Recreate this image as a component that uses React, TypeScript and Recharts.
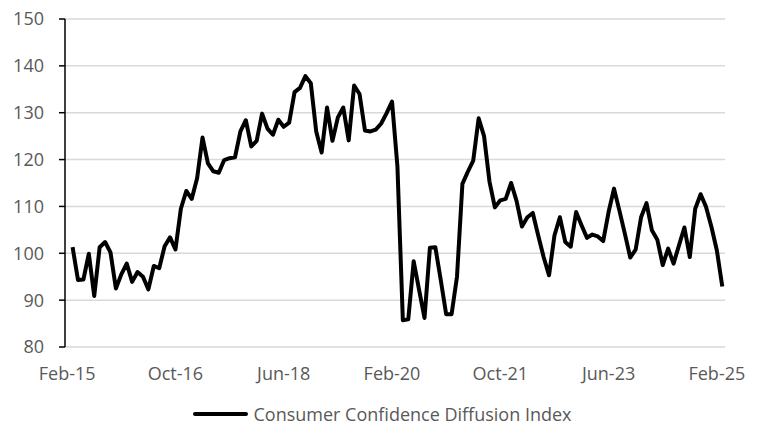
import { CartesianGrid, Legend, Line, LineChart, XAxis, YAxis } from 'recharts'

// monthly readings, Feb-15 .. Feb-25
const indexValues = [
	101.3, 94.3, 94.4, 99.9, 90.9, 101.3, 102.4, 100.2, 92.5, 95.5, 97.8, 93.9,
	96.0, 95.0, 92.3, 97.3, 96.8, 101.5, 103.4, 100.8, 109.5, 113.3, 111.6, 116.0,
	124.7, 119.2, 117.5, 117.2, 119.9, 120.3, 120.5, 126.0, 128.4, 122.8, 124.0, 129.8,
	126.6, 125.3, 128.5, 127.0, 127.9, 134.4, 135.3, 137.8, 136.3, 126.0, 121.5, 131.1,
	124.0, 129.0, 131.1, 124.1, 135.8, 134.0, 126.2, 126.0, 126.4, 127.7, 129.9, 132.4,
	118.5, 85.7, 85.9, 98.3, 92.2, 86.2, 101.2, 101.3, 94.3, 87.0, 87.0, 95.0,
	114.8, 117.4, 119.8, 128.8, 125.0, 115.3, 109.8, 111.3, 111.6, 115.0, 111.2, 105.7,
	107.7, 108.6, 103.8, 99.2, 95.3, 103.8, 107.7, 102.4, 101.4, 108.8, 106.0, 103.3,
	104.0, 103.6, 102.6, 108.8, 113.8, 109.1, 104.2, 99.1, 100.8, 107.7, 110.7, 104.9,
	102.9, 97.5, 101.0, 97.8, 101.7, 105.5, 99.2, 109.5, 112.6, 109.9, 105.6, 100.6,
	92.9,
]

const tickLabels = ['Feb-15', 'Oct-16', 'Jun-18', 'Feb-20', 'Oct-21', 'Jun-23', 'Feb-25']
const tickMonths = [0, 20, 40, 60, 80, 100, 120]
const yTicks = [80, 90, 100, 110, 120, 130, 140, 150]
const seriesName = 'Consumer Confidence Diffusion Index'

const FONT = "'Open Sans', sans-serif"
const TEXT = '#595959'

const data = indexValues.map((v, i) => ({ month: i + 1, value: v }))

const LegendContent = () => (
	<div
		style={{
			display: 'flex',
			alignItems: 'center',
			justifyContent: 'center',
			height: 18,
			paddingLeft: 5,
			fontFamily: FONT,
			fontSize: 18,
			lineHeight: '18px',
			color: TEXT,
		}}
	>
		<div style={{ width: 55, height: 4, background: '#000', borderRadius: 2, marginRight: 5 }} />
		<span style={{ lineHeight: '18px' }}>{seriesName}</span>
	</div>
)

export default function App() {
	return (
		<div style={{ position: 'absolute', left: 0, top: 0 }}>
			<LineChart
				width={760}
				height={424}
				data={data}
				margin={{ top: 19, right: 35, bottom: 1, left: 0 }}
				style={{ fontFamily: FONT }}
			>
				<CartesianGrid vertical={false} stroke='#d9d9d9' strokeWidth={1.5} />
				<XAxis
					dataKey='month'
					type='number'
					domain={[-0.4, 121.5]}
					ticks={tickMonths}
					tickFormatter={m => tickLabels[tickMonths.indexOf(m)]}
					axisLine={false}
					tickLine={false}
					tickSize={0}
					tickMargin={20}
					height={58}
					interval={0}
					tick={{ fill: TEXT, fontSize: 18, fontFamily: FONT }}
				/>
				<YAxis
					domain={[80, 150]}
					ticks={yTicks}
					width={65}
					axisLine={{ stroke: '#000', strokeWidth: 1.5 }}
					tickLine={{ stroke: '#000', strokeWidth: 1.5 }}
					tickSize={6}
					tickMargin={15}
					interval={0}
					tick={{ fill: TEXT, fontSize: 18, fontFamily: FONT }}
				/>
				<Legend
					verticalAlign='bottom'
					content={<LegendContent />}
					wrapperStyle={{ left: 0, width: 760 }}
				/>
				<Line
					type='linear'
					dataKey='value'
					name={seriesName}
					stroke='#000'
					strokeWidth={4}
					strokeLinejoin='round'
					dot={false}
					activeDot={false}
					isAnimationActive={false}
				/>
			</LineChart>
		</div>
	)
}
